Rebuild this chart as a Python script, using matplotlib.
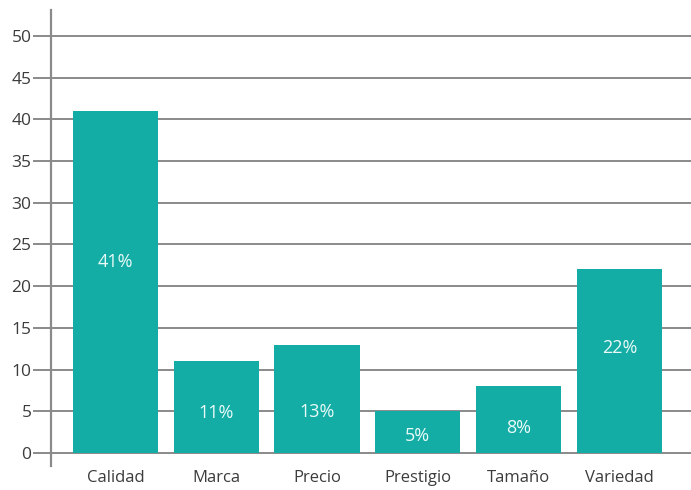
import matplotlib.pyplot as plt

# data
categories = ['Calidad', 'Marca', 'Precio', 'Prestigio', 'Tamaño', 'Variedad']
values = [41, 11, 13, 5, 8, 22]
yticks = [0, 5, 10, 15, 20, 25, 30, 35, 40, 45, 50]

# heights where the percent labels sit inside the bars
label_heights = [22.9, 4.8, 4.9, 2.0, 3.0, 12.6]

teal = '#14ada6'
text_gray = '#3c3c3c'
grid_gray = '#8a8a8a'

plt.rcParams['font.family'] = ['Open Sans', 'DejaVu Sans']

fig = plt.figure(figsize=(6.91, 4.90), dpi=100)
ax = fig.add_axes([51 / 691, 24 / 490, 640 / 691, 456 / 490])

x = list(range(len(categories)))

# gridlines under bars
for t in yticks:
    ax.axhline(t, color=grid_gray, linewidth=1.4, zorder=1)

ax.bar(x, values, width=0.845, color=teal, zorder=2)

for xi, v, h in zip(x, values, label_heights):
    ax.text(xi, h, f'{v}%', ha='center', va='center',
            color='#eafaf8', fontsize=13, zorder=3)

ax.set_xlim(-0.638, 5.71)
ax.set_ylim(-1.56, 53.1)

ax.set_yticks(yticks)
ax.set_xticks(x)
ax.set_xticklabels(categories)

ax.tick_params(axis='y', length=13, width=1.4, color=grid_gray,
               labelsize=12.5, labelcolor=text_gray, pad=1)
ax.tick_params(axis='x', length=0, labelsize=12, labelcolor=text_gray, pad=3)

for side in ['top', 'right', 'bottom']:
    ax.spines[side].set_visible(False)
ax.spines['left'].set_color(grid_gray)
ax.spines['left'].set_linewidth(1.6)

fig.savefig('out.png', dpi=100)
